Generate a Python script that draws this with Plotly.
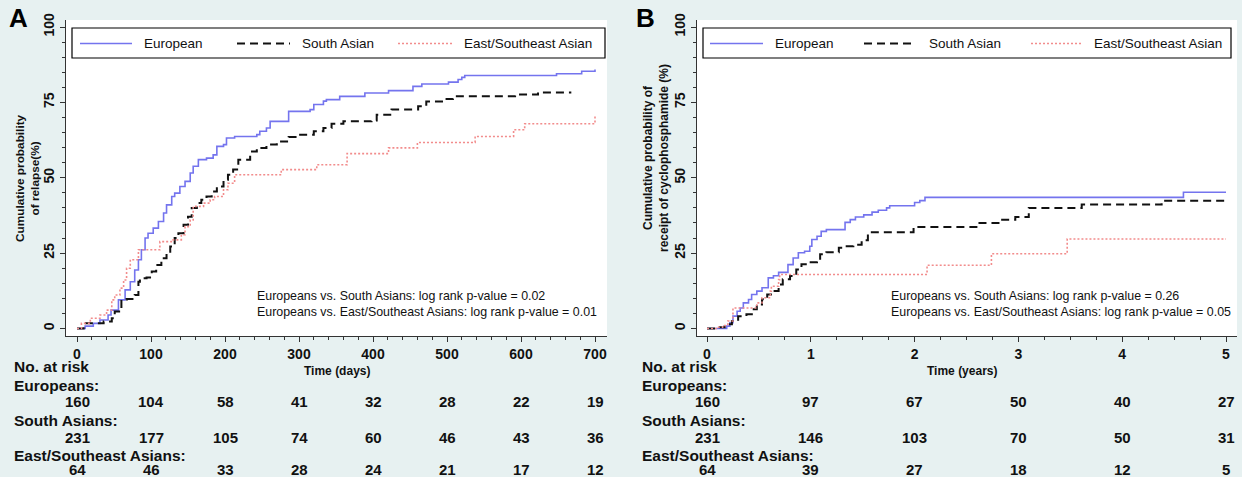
import plotly.graph_objects as go

W, H = 1242, 477

# ---------------- data ----------------
groups = ["European", "South Asian", "East/Southeast Asian"]
risk_labels = ["Europeans:", "South Asians:", "East/Southeast Asians:"]

# Panel A: relapse (days)
a_eur_t = [0, 11, 22, 31, 42, 46, 56, 65, 72, 78, 83, 87, 92, 96, 103, 110, 117, 121, 128, 132,
           139, 146, 153, 157, 164, 175, 184, 189, 198, 202, 213, 243, 247, 256, 261, 286, 315, 320, 333, 337,
           355, 389, 421, 454, 466, 502, 515, 520, 524, 648, 682, 700]
a_eur_v = [0, 0.8, 1.7, 2.8, 4.5, 6.1, 9.5, 12.8, 15.5, 19.4, 22.8, 26.1, 30, 31.6, 33.3, 35.5, 38.3, 41, 43.8, 44.9,
           47.1, 48.8, 51.6, 53.8, 56, 56.5, 57.6, 60.4, 61, 63.2, 63.7, 64.3, 65.4, 66.5, 68.7, 72, 72.6, 74.3, 75.4, 75.9,
           77, 78.1, 78.9, 80.3, 81.1, 81.7, 82.6, 83.3, 83.9, 84.5, 85.3, 85.9]
a_sa_t = [0, 9, 36, 47, 51, 60, 67, 78, 83, 85, 94, 101, 107, 114, 121, 126, 132, 137, 144, 150,
          155, 162, 168, 175, 182, 189, 198, 204, 211, 218, 234, 243, 256, 270, 286, 297, 320, 333, 344, 360,
          398, 405, 425, 461, 472, 497, 508, 592, 623, 668]
a_sa_v = [0, 1.7, 2.3, 3.4, 5.6, 9.5, 9.8, 11.1, 15.5, 16.7, 16.9, 18.9, 21.1, 23.3, 25, 27.2, 30, 31.6, 34.4, 37.1,
          40, 41.6, 42.7, 43.8, 45.4, 47.1, 49.3, 51, 52.7, 56, 58.7, 59.9, 61, 62, 63.5, 64.3, 65.4, 66.5, 67.9, 68.7,
          69, 70.9, 72.6, 73.7, 75.3, 76.1, 77, 77.6, 78.3, 78.3]
a_esa_t = [0, 6, 18, 31, 40, 47, 51, 58, 63, 67, 72, 83, 112, 130, 141, 146, 153, 157, 171, 180,
           186, 198, 204, 213, 276, 324, 365, 421, 460, 538, 590, 605, 700]
a_esa_v = [0, 1.7, 3.4, 4.5, 6.1, 9.5, 11.1, 13.4, 16.1, 20, 22.8, 26.1, 28.8, 29.4, 31.1, 33.8, 36, 40.5, 41.6, 42.7,
           43.8, 46, 48.2, 51, 52.7, 54.3, 58, 59.9, 61.7, 63.7, 65.9, 67.9, 70.4]

# Panel B: cyclophosphamide (years)
b_eur_t = [0, 0.125, 0.19, 0.22, 0.25, 0.29, 0.32, 0.35, 0.40, 0.43, 0.48, 0.53, 0.59, 0.64, 0.69, 0.78, 0.83, 0.88,
           0.94, 0.99, 1.01, 1.06, 1.10, 1.15, 1.33, 1.38, 1.43, 1.51, 1.59, 1.65, 1.73, 1.76, 2.00, 2.05, 2.10, 4.59, 5.0]
b_eur_v = [0, 0, 0.8, 1.9, 4.1, 5.7, 6.8, 8.5, 9.6, 11.3, 12.4, 13.5, 16.8, 17.5, 18.6, 21.2, 23.4, 25.1,
           25.6, 27.3, 29.5, 30.6, 32.2, 32.8, 35.2, 36.1, 37, 37.7, 38.6, 39.2, 40, 40.7, 41.8, 42.4, 43.5, 45.2, 45.2]
b_sa_t = [0, 0.11, 0.17, 0.24, 0.30, 0.38, 0.45, 0.48, 0.53, 0.58, 0.63, 0.69, 0.73, 0.80, 0.86, 0.91, 0.98, 1.06,
          1.09, 1.15, 1.27, 1.33, 1.41, 1.49, 1.55, 1.99, 2.61, 2.83, 2.97, 3.1, 3.61, 4.38, 5.0]
b_sa_v = [0, 0.4, 1.4, 2.5, 4.1, 4.7, 6.4, 8, 9.7, 11.3, 12.4, 14.6, 16.3, 17.4, 19.6, 21.3, 22, 22.6,
          24.6, 25.3, 26.8, 27.3, 27.8, 29.3, 31.9, 33.7, 35, 36.1, 37, 40, 41.1, 42.4, 42.4]
b_esa_t = [0, 0.09, 0.15, 0.2, 0.25, 0.46, 0.48, 0.53, 0.61, 0.62, 0.69, 0.70, 2.12, 2.74, 3.47, 5.0]
b_esa_v = [0, 0.4, 1.0, 2.5, 6.8, 6.8, 8.5, 10.2, 12.4, 14, 16.2, 17.9, 21, 24.8, 29.7, 29.7]

# At-risk tables
a_risk_ticks = [0, 100, 200, 300, 400, 500, 600, 700]
a_risk = [[160, 104, 58, 41, 32, 28, 22, 19],
          [231, 177, 105, 74, 60, 46, 43, 36],
          [64, 46, 33, 28, 24, 21, 17, 12]]
b_risk_ticks = [0, 1, 2, 3, 4, 5]
b_risk = [[160, 97, 67, 50, 40, 27],
          [231, 146, 103, 70, 50, 31],
          [64, 39, 27, 18, 12, 5]]

a_ptext = ["Europeans vs. South Asians: log rank p-value = 0.02",
           "Europeans vs. East/Southeast Asians: log rank p-value = 0.01"]
b_ptext = ["Europeans vs. South Asians: log rank p-value = 0.26",
           "Europeans vs. East/Southeast Asians: log rank p-value = 0.05"]

# ---------------- style ----------------
BG = "#E7F1F1"
FONT = "Liberation Sans, Arial, Helvetica, sans-serif"
TXT = "#111111"
colors = ["#7474EE", "#111111", "#F28C8C"]
widths = [1.6, 2.0, 1.6]
dashes = ["solid", "8px,5px", "2px,2px"]


def px(x):
    return x / W


def py(y):
    return 1 - y / H


fig = go.Figure()

panels = [
    dict(xa="x", ya="y", series=[(a_eur_t, a_eur_v), (a_sa_t, a_sa_v), (a_esa_t, a_esa_v)]),
    dict(xa="x2", ya="y2", series=[(b_eur_t, b_eur_v), (b_sa_t, b_sa_v), (b_esa_t, b_esa_v)]),
]
for p in panels:
    for gi, (t, v) in enumerate(p["series"]):
        fig.add_trace(go.Scatter(x=t, y=v, mode="lines", line_shape="hv", name=groups[gi],
                                 line=dict(color=colors[gi], width=widths[gi], dash=dashes[gi]),
                                 xaxis=p["xa"], yaxis=p["ya"], showlegend=False, hoverinfo="skip"))

axis_common = dict(showline=True, linecolor="#333333", linewidth=1, ticks="outside",
                   ticklen=5, tickcolor="#333333", showgrid=False, zeroline=False, automargin=False,
                   tickfont=dict(family=FONT, size=14, color=TXT, weight="bold"))

ytop = 20
ybot = 336
y0px, y100px = 328.5, 27.0
ppu = (y0px - y100px) / 100
yrange = [-(ybot - y0px) / ppu, (y0px - ytop) / ppu]
ydom = [py(ybot), py(ytop)]

# Panel A geometry
ax0, ax700 = 77.0, 595.0
a_ppd = (ax700 - ax0) / 700
a_left, a_right = 66, 607
# Panel B geometry
bx0, bx5 = 707.0, 1226.0
b_ppy = (bx5 - bx0) / 5
b_left, b_right = 697, 1237

fig.update_layout(
    template="none",
    width=W, height=H, paper_bgcolor=BG, plot_bgcolor="white",
    margin=dict(l=0, r=0, t=0, b=0, autoexpand=False),
    showlegend=False,
    xaxis=dict(domain=[px(a_left), px(a_right)],
               range=[-(ax0 - a_left) / a_ppd, (a_right - ax0) / a_ppd],
               tickvals=a_risk_ticks, anchor="y",
               minor=dict(dtick=20, ticks="outside", ticklen=3, tickcolor="#333333"),
               **axis_common),
    yaxis=dict(domain=ydom, range=yrange, tickvals=[0, 25, 50, 75, 100], tickangle=-90, anchor="x",
               minor=dict(dtick=5, ticks="outside", ticklen=3, tickcolor="#333333"),
               **axis_common),
    xaxis2=dict(domain=[px(b_left), px(b_right)],
                range=[-(bx0 - b_left) / b_ppy, (b_right - bx0) / b_ppy],
                tickvals=b_risk_ticks, anchor="y2",
                minor=dict(dtick=0.25, ticks="outside", ticklen=3, tickcolor="#333333"),
                **axis_common),
    yaxis2=dict(domain=ydom, range=yrange, tickvals=[0, 25, 50, 75, 100], tickangle=-90, anchor="x2",
                minor=dict(dtick=5, ticks="outside", ticklen=3, tickcolor="#333333"),
                **axis_common),
)

shapes = []
ann = []

# legends drawn as boxes with sample lines and labels
legend_specs = [
    dict(box=(72, 605), samples=[(80, 132), (237, 290), (398, 452)], texts=[142, 300, 462]),
    dict(box=(703, 1231), samples=[(710, 763), (864, 916), (1031, 1082)], texts=[773, 927, 1092]),
]
leg_top, leg_bot, leg_mid = 28, 58, 43.5
for spec in legend_specs:
    shapes.append(dict(type="rect", xref="paper", yref="paper", x0=px(spec["box"][0]), x1=px(spec["box"][1]),
                       y0=py(leg_bot), y1=py(leg_top), fillcolor="white",
                       line=dict(color="#000000", width=1.2), layer="above"))
    for gi in range(3):
        s0, s1 = spec["samples"][gi]
        shapes.append(dict(type="line", xref="paper", yref="paper", x0=px(s0), x1=px(s1),
                           y0=py(leg_mid), y1=py(leg_mid), layer="above",
                           line=dict(color=colors[gi], width=widths[gi], dash=dashes[gi])))
        ann.append(dict(text=groups[gi], x=px(spec["texts"][gi]), y=py(leg_mid), xref="paper", yref="paper",
                        showarrow=False, font=dict(family=FONT, size=13.5, color=TXT),
                        xanchor="left", yanchor="middle"))

# panel letters
for letter, lx in (("A", 18), ("B", 645)):
    ann.append(dict(text="<b>%s</b>" % letter, x=px(lx), y=py(18), xref="paper", yref="paper", showarrow=False,
                    font=dict(family=FONT, size=26, color="#000"), xanchor="center", yanchor="middle"))
# y titles
ann.append(dict(text="<b>Cumulative probability<br>of relapse(%)</b>", x=px(27), y=py(178),
                xref="paper", yref="paper", showarrow=False, textangle=-90,
                font=dict(family=FONT, size=11.8, color=TXT), xanchor="center", yanchor="middle"))
ann.append(dict(text="<b>Cumulative probability of<br>receipt of cyclophosphamide (%)</b>", x=px(656), y=py(158),
                xref="paper", yref="paper", showarrow=False, textangle=-90,
                font=dict(family=FONT, size=12, color=TXT), xanchor="center", yanchor="middle"))
# x titles
ann.append(dict(text="<b>Time (days)</b>", x=px(337), y=py(371), xref="paper", yref="paper", showarrow=False,
                font=dict(family=FONT, size=12, color=TXT), xanchor="center", yanchor="middle"))
ann.append(dict(text="<b>Time (years)</b>", x=px(962), y=py(371), xref="paper", yref="paper", showarrow=False,
                font=dict(family=FONT, size=12, color=TXT), xanchor="center", yanchor="middle"))
# p-values
for ptxt, left in ((a_ptext, 255), (b_ptext, 889)):
    for i, t in enumerate(ptxt):
        ann.append(dict(text=t, x=px(left), y=py(296 + 16 * i), xref="paper", yref="paper", showarrow=False,
                        font=dict(family=FONT, size=12.4, color=TXT), xanchor="left", yanchor="middle"))
# at-risk tables
label_rows = [385, 420, 455]
num_rows = [401, 437, 469]
for xa, left, ticks, risk in (("x", 12, a_risk_ticks, a_risk), ("x2", 640, b_risk_ticks, b_risk)):
    ann.append(dict(text="<b>No. at risk</b>", x=px(left), y=py(366), xref="paper", yref="paper",
                    showarrow=False, font=dict(family=FONT, size=15.5, color=TXT),
                    xanchor="left", yanchor="middle"))
    for gi in range(3):
        ann.append(dict(text="<b>" + risk_labels[gi] + "</b>", x=px(left), y=py(label_rows[gi]),
                        xref="paper", yref="paper", showarrow=False,
                        font=dict(family=FONT, size=15.5, color=TXT), xanchor="left", yanchor="middle"))
        for tv, n in zip(ticks, risk[gi]):
            ann.append(dict(text="<b>%d</b>" % n, x=tv, y=py(num_rows[gi]), xref=xa, yref="paper",
                            showarrow=False, font=dict(family=FONT, size=15, color=TXT),
                            xanchor="center", yanchor="middle"))

fig.update_layout(annotations=ann, shapes=shapes)
fig.write_html("out.html", config={"displayModeBar": False},
               post_script="document.body.style.margin='0px';document.body.style.padding='0px';"
                           "document.body.style.background='%s';" % BG)
